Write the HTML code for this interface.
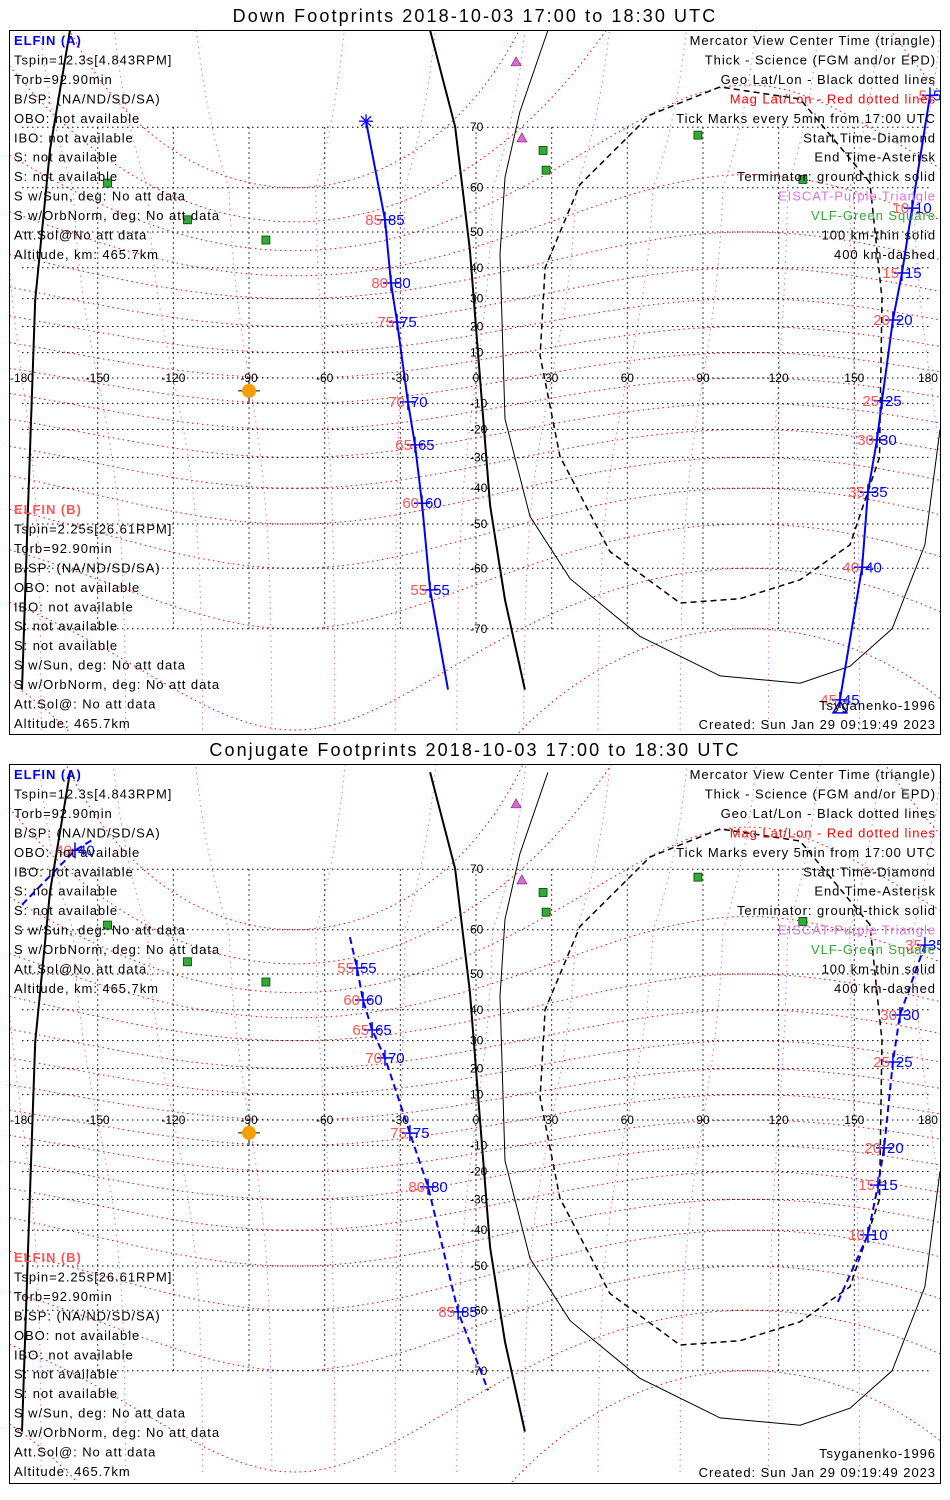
<!DOCTYPE html>
<html><head><meta charset="utf-8">
<style>
html,body{margin:0;padding:0;background:#fff;}
svg{display:block;}
text{font-family:"Liberation Sans",sans-serif;}
</style></head>
<body>
<svg id="chart" width="950" height="1500" viewBox="0 0 950 1500" xmlns="http://www.w3.org/2000/svg"></svg>
<script>
// ---- data ----
const trackA_lon = [-43.6,-36.1,-33.7,-31.3,-27.0,-24.2,-21.4,-18.2,-11.1];
const trackA_lat = [70.8,53.0,35.2,21.6,-9.4,-25.6,-44.4,-64.0,-76.8];
const trackA_tick = ['', '85','80','75','70','65','60','55',''];
const trackB_lon = [180.0,172.9,168.9,165.3,161.0,159.0,155.4,153.1,144.3];
const trackB_lat = [73.9,55.7,38.4,22.4,-9.0,-23.8,-41.2,-59.8,-77.7];
const trackB_tick = ['5','10','15','20','25','30','35','40','45'];
const conjA_lon = [-50.0,-47.2,-44.8,-41.2,-36.1,-26.2,-19.0,-7.1,4.8];
const conjA_lat = [58.5,51.5,42.9,33.6,23.9,-5.2,-25.6,-60.3,-72.5];
const conjA_tick = ['','55','60','65','70','75','80','85',''];
const conjC_lon = [-180,-159,-151.1];
const conjC_lat = [64.6,72.4,73.8];
const conjC_tick = ['','40',''];
const conjB_lon = [178.0,168.1,165.3,161.8,159.4,155.4,143.5];
const conjB_lat = [56.8,38.4,22.4,-11.0,-25.0,-41.4,-58.3];
const conjB_tick = ['35','30','25','20','15','10',''];
const termR_lon = [-18.2,-8.3,-2.4,1.6,5.6,11.5,19.4];
const termR_lat = [79.7,70.1,45.2,0,-45,-65.7,-76.8];
const termL_lon = [-180,-177.6,-174.8,-168.9,-161];
const termL_lat = [-76.8,-45,29.5,66.7,79.7];
const thin_lon = [28.5,17.4,11.5,9.5,11.5,21.4,37.3,65.0,96.8,128.5,148.3,165,178,184];
const thin_lat = [79.7,72,62,44,-16,-48,-62,-71,-75.5,-76.2,-74.5,-70,-55,-20];
const dash_lon = [156.2,128.5,96.8,69.0,41.2,27.4,25.4,33.3,53.1,80.9,104.7,128.5,148.3,160,161];
const dash_lat = [61,73.5,74.8,71.6,60.6,40,8.8,-29.7,-56.5,-66.2,-65.5,-62.2,-55,-30,30];
const vlf_lon = [-146.1,-114.4,-83.3,26.6,27.8,88.0,129.6];
const vlf_lat = [60.9,53.0,47.9,66.6,63.3,68.9,61.6];
const eiscat_lon = [15.9,18.2];
const eiscat_lat = [77.2,68.5];
const sun_lon = [-90.0]; const sun_lat = [-5.1];
const lonTicks = [-180,-150,-120,-90,-60,-30,0,30,60,90,120,150,180];
const latTicks = [70,60,50,40,30,20,10,0,-10,-20,-30,-40,-50,-60,-70];

const NS='http://www.w3.org/2000/svg';
const svg=document.getElementById('chart');
function el(tag,attrs,parent){const e=document.createElementNS(NS,tag);for(const k in attrs)e.setAttribute(k,attrs[k]);(parent||svg).appendChild(e);return e;}
function txt(x,y,s,attrs,parent){const t=el('text',Object.assign({x:x,y:y,'font-size':13},attrs),parent);t.textContent=s;return t;}
const X=lon=>476+2.522*lon;
function Y(lat,y0){const r=lat*Math.PI/180;return y0-144.5*Math.log(Math.tan(Math.PI/4+r/2));}

function panel(idx,top,bottom,y0,title,toff,boff,conj){
  const g=el('g',{});
  
  
  const t=txt(475,top-8,title,{'font-size':18,'text-anchor':'middle','letter-spacing':'2.1'},g);
  
  
  const cid='clip'+idx;
  const cp=el('clipPath',{id:cid},g);el('rect',{x:10,y:top+1,width:930,height:bottom-top-2},cp);
  const m=el('g',{'clip-path':'url(#'+cid+')'},g);
  for(let ml=-80;ml<=85;ml+=10){
    let d='';for(let lon=-185;lon<=185;lon+=3){const amp=10+Math.max(0,ml-40)*0.25;let lat=ml-amp*Math.cos((lon+72)*Math.PI/180);lat=Math.max(-84,Math.min(84,lat));d+=(d?'L':'M')+X(lon).toFixed(1)+','+Y(lat,y0).toFixed(1);}
    const p=el('path',{d:d,fill:'none',stroke:'#f00','stroke-width':1,'stroke-dasharray':'1.5 3.5'},m);
    
    
  }
  for(let mlon=-180;mlon<=180;mlon+=30){
    let d='';for(let lat=-80;lat<=82;lat+=2){const lon=mlon+12*Math.sin(lat*Math.PI/180)*Math.sin((mlon+40)*Math.PI/180)+ (lat>60?(lat-60)*0.6*Math.sign(mlon+72):0);d+=(d?'L':'M')+X(lon).toFixed(1)+','+Y(lat,y0).toFixed(1);}
    const p=el('path',{d:d,fill:'none',stroke:'#e070e0','stroke-width':1,'stroke-dasharray':'1.5 4'},m);
    
    
  }
  const yT=Y(70,y0),yB=Y(-70,y0);
  lonTicks.forEach(lon=>{if(lon===180||lon===-180)return;const l=el('line',{x1:X(lon),x2:X(lon),y1:yT,y2:yB,stroke:'#000','stroke-dasharray':'1.5 3.5'},m);});
  latTicks.forEach(lat=>{const y=Y(lat,y0);const l=el('line',{x1:22,x2:930,y1:y,y2:y,stroke:'#000','stroke-dasharray':'1.5 3.5'},m);
    if(lat!==0){const tt=txt(470,y+4,String(lat),{'font-size':12},m);}});
  lonTicks.forEach(lon=>{const tt=txt(X(lon)+(lon===180?-2:0),y0+4,String(lon),{'font-size':12,'text-anchor':'middle',fill:'#000'},m);});
  function poly(lons,lats,attrs,name,closed){let d='';lons.forEach((lo,i)=>{d+=(i?'L':'M')+X(lo).toFixed(1)+','+Y(lats[i],y0).toFixed(1);});if(closed)d+='Z';const p=el('path',Object.assign({d:d,fill:'none'},attrs),m);return p;}
  poly(termR_lon,termR_lat,{stroke:'#000','stroke-width':2},'terminator-ground-right');
  poly(termL_lon,termL_lat,{stroke:'#000','stroke-width':2},'terminator-ground-left');
  poly(thin_lon,thin_lat,{stroke:'#000','stroke-width':1},'terminator-100km');
  poly(dash_lon,dash_lat,{stroke:'#000','stroke-width':1.5,'stroke-dasharray':'6 4'},'terminator-400km',true);
  vlf_lon.forEach((lo,i)=>{const r=el('rect',{x:X(lo)-4,y:Y(vlf_lat[i],y0)-4,width:8,height:8,fill:'#3a3',stroke:'#040','stroke-width':0.8},m);});
  eiscat_lon.forEach((lo,i)=>{const x=X(lo),y=Y(eiscat_lat[i],y0);const p=el('path',{d:`M${x},${y-5}L${x+5},${y+4}L${x-5},${y+4}Z`,fill:'#d070d0',stroke:'#808','stroke-width':0.6},m);});
  sun_lon.forEach((lo,i)=>{const x=X(lo),y=Y(sun_lat[i],y0);el('line',{x1:x-11,x2:x+11,y1:y,y2:y,stroke:'#000'},m);el('line',{x1:x,x2:x,y1:y-11,y2:y+11,stroke:'#000'},m);const c=el('circle',{cx:x,cy:y,r:7,fill:'#f5a000'},m);});
  function track(lons,lats,ticks,dashed,name){
    let d='';lons.forEach((lo,i)=>{d+=(i?'L':'M')+X(lo).toFixed(1)+','+Y(lats[i],y0).toFixed(1);});
    const p=el('path',Object.assign({d:d,fill:'none',stroke:'#00f','stroke-width':2},dashed?{'stroke-dasharray':'7 4'}:{}),m);
    
    
    ticks.forEach((tk,i)=>{if(!tk)return;const x=X(lons[i]),y=Y(lats[i],y0);
      el('line',{x1:x-8,x2:x+8,y1:y,y2:y,stroke:'#00f','stroke-width':1.5},m);
      el('line',{x1:x,x2:x,y1:y-8,y2:y+8,stroke:'#00f','stroke-width':1.5},m);
      const r=txt(x-3,y+5,tk,{'font-size':15,fill:'#f55','text-anchor':'end'},m);
      const b=txt(x+3,y+5,tk,{'font-size':15,fill:'#00f'},m);});
  }
  if(!conj){
    track(trackA_lon,trackA_lat,trackA_tick,false,'elfin-a-track-west');
    track(trackB_lon,trackB_lat,trackB_tick,false,'elfin-a-track-east');
    const sx=X(trackA_lon[0]),sy=Y(trackA_lat[0],y0);
    [0,45,90,135].forEach(a=>{const r=a*Math.PI/180;el('line',{x1:sx-7*Math.cos(r),y1:sy-7*Math.sin(r),x2:sx+7*Math.cos(r),y2:sy+7*Math.sin(r),stroke:'#00f','stroke-width':1.3},m);});
    const n=trackB_lon.length-1,ex=X(trackB_lon[n]),ey=Y(trackB_lat[n],y0)+8;
    const tr=el('path',{d:`M${ex},${ey-7}L${ex+7},${ey+5}L${ex-7},${ey+5}Z`,fill:'none',stroke:'#00f','stroke-width':1.5},m);
    
  } else {
    track(conjA_lon,conjA_lat,conjA_tick,true,'conjugate-track-west');
    track(conjC_lon,conjC_lat,conjC_tick,true,'conjugate-track-wrap');
    track(conjB_lon,conjB_lat,conjB_tick,true,'conjugate-track-east');
  }
  const fr=el('rect',{x:9.5,y:top+0.5,width:931,height:bottom-top,fill:'none',stroke:'#000'},g);
  
  const L1=['Tspin=12.3s[4.843RPM]','Torb=92.90min','B/SP: (NA/ND/SD/SA)','OBO: not available','IBO: not available','S: not available','S: not available','S w/Sun, deg: No att data','S w/OrbNorm, deg: No att data','Att.Sol@No att data','Altitude, km: 465.7km'];
  const L2=['Tspin=2.25s[26.61RPM]','Torb=92.90min','B/SP: (NA/ND/SD/SA)','OBO: not available','IBO: not available','S: not available','S: not available','S w/Sun, deg: No att data','S w/OrbNorm, deg: No att data','Att.Sol@: No att data','Altitude: 465.7km'];
  const sp=19.45, ls='0.95';
  let a=txt(14,top+15+toff,'ELFIN (A)',{fill:'#00f','font-weight':'bold','letter-spacing':ls},g);
  L1.forEach((s,i)=>{const t=txt(14,top+15+toff+sp*(i+1),s,{'letter-spacing':ls},g);});
  let b=txt(14,top+484+boff,'ELFIN (B)',{fill:'#f55','font-weight':'bold','letter-spacing':ls},g);
  L2.forEach((s,i)=>{const t=txt(14,top+484+boff+sp*(i+1),s,{'letter-spacing':ls},g);});
  const R=[['Mercator View Center Time (triangle)','#000'],['Thick - Science (FGM and/or EPD)','#000'],['Geo Lat/Lon - Black dotted lines','#000'],['Mag Lat/Lon - Red dotted lines','#f00'],['Tick Marks every 5min from 17:00 UTC','#000'],['Start Time-Diamond','#000'],['End Time-Asterisk','#000'],['Terminator: ground-thick solid','#000'],['EISCAT-Purple Triangle','#e070e0'],['VLF-Green Square','#3a3'],['100 km-thin solid','#000'],['400 km-dashed','#000']];
  R.forEach((r,i)=>{const t=txt(936,top+15+toff+sp*i,r[0],{'text-anchor':'end',fill:r[1],'letter-spacing':ls},g);});
  let ts=txt(936,top+680+boff,'Tsyganenko-1996',{'text-anchor':'end','letter-spacing':ls},g);
  let cr=txt(936,top+699+boff,'Created: Sun Jan 29 09:19:49 2023',{'text-anchor':'end','letter-spacing':ls},g);
}
panel(0,30,734,378,'Down Footprints 2018-10-03 17:00 to 18:30 UTC',0,0,false);
panel(1,764,1483,1120,'Conjugate Footprints 2018-10-03 17:00 to 18:30 UTC',0,14,true);
</script>
</body></html>
